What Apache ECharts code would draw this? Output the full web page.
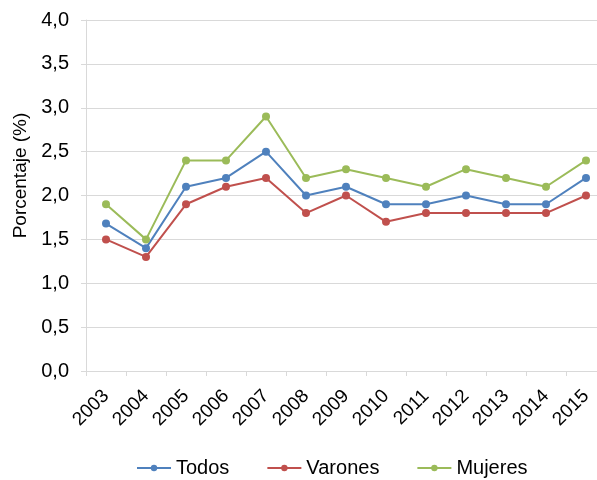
<!DOCTYPE html>
<html>
<head>
<meta charset="utf-8">
<script src="https://cdn.jsdelivr.net/npm/echarts@6/dist/echarts.min.js"></script>
<style>
  html, body { margin: 0; padding: 0; background: #fff; }
  #chart { width: 597px; height: 480px; }
</style>
</head>
<body>
<div id="chart"></div>
<script>
var years = ['2003', '2004', '2005', '2006', '2007', '2008', '2009', '2010', '2011', '2012', '2013', '2014', '2015'];
var todos = [1.68, 1.4, 2.1, 2.2, 2.5, 2.0, 2.1, 1.9, 1.9, 2.0, 1.9, 1.9, 2.2];
var varones = [1.5, 1.3, 1.9, 2.1, 2.2, 1.8, 2.0, 1.7, 1.8, 1.8, 1.8, 1.8, 2.0];
var mujeres = [1.9, 1.5, 2.4, 2.4, 2.9, 2.2, 2.3, 2.2, 2.1, 2.3, 2.2, 2.1, 2.4];

var chart = echarts.init(document.getElementById('chart'));
var font = 'Liberation Sans, Arial, sans-serif';

function serie(name, data, color) {
    return {
        name: name,
        type: 'line',
        data: data,
        symbol: 'circle',
        symbolSize: 8,
        lineStyle: { color: color, width: 2 },
        itemStyle: { color: color }
    };
}

var option = {
    animation: false,
    textStyle: { fontFamily: font },
    // el área de trazado sobresale por la derecha, como en el original
    grid: { left: 86, top: 20, width: 520, height: 351, outerBoundsMode: 'none', containLabel: false },
    legend: {
        top: 453,
        left: 131,
        itemWidth: 34,
        itemHeight: 8,
        itemGap: 37,
        textStyle: { fontSize: 20, color: '#000', fontFamily: font },
        data: ['Todos', 'Varones', 'Mujeres']
    },
    xAxis: {
        type: 'category',
        data: years,
        boundaryGap: true,
        axisLine: { lineStyle: { color: '#d9d9d9', width: 1 } },
        axisTick: { show: true, length: 5, lineStyle: { color: '#d9d9d9' } },
        axisLabel: { rotate: 45, fontSize: 19, color: '#000', margin: 22, interval: 0 }
    },
    yAxis: {
        type: 'value',
        min: 0,
        max: 4,
        interval: 0.5,
        name: 'Porcentaje (%)',
        nameLocation: 'middle',
        nameGap: 56,
        nameTextStyle: { fontSize: 19, color: '#000', padding: [0, 0, 0, 40] },
        axisLine: { show: true, lineStyle: { color: '#d9d9d9' } },
        axisTick: { show: true, length: 5, lineStyle: { color: '#d9d9d9' } },
        splitLine: { lineStyle: { color: '#d9d9d9', width: 1 } },
        axisLabel: {
            fontSize: 20,
            color: '#000',
            margin: 17,
            formatter: function (v) { return v.toFixed(1).replace('.', ','); }
        }
    },
    series: [
        serie('Todos', todos, '#4f81bd'),
        serie('Varones', varones, '#c0504d'),
        serie('Mujeres', mujeres, '#9bbb59')
    ]
};
chart.setOption(option);
</script>
</body>
</html>
